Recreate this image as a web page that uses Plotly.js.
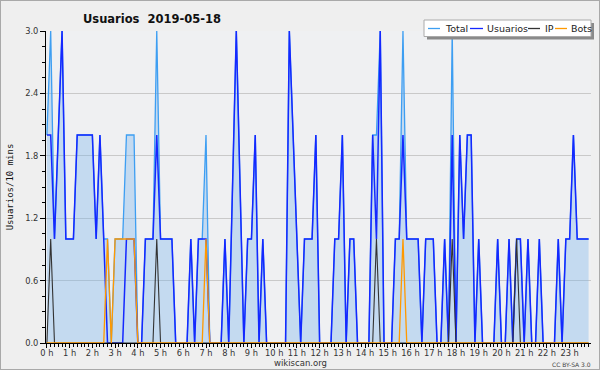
<!DOCTYPE html>
<html><head><meta charset="utf-8">
<script src="https://cdn.plot.ly/plotly-3.0.1.min.js"></script>
<style>
html,body{margin:0;padding:0;background:#efefef;}
#wrap{position:relative;width:600px;height:370px;}
#chart{width:600px;height:370px;}
#frame{position:absolute;left:0;top:0;width:600px;height:370px;box-sizing:border-box;border:1px solid #a9a9a9;pointer-events:none;}
</style></head><body>
<div id="wrap"><div id="chart"></div><div id="frame"></div></div>
<script>
// 10-minute samples for 2019-05-18 (144 per day)
const stepMinutes = 10;
const usuarios = [
 2,2,1,2,3,1,1,1,2,2,
 2,2,2,1,2,1,0,0,0,0,
 0,1,1,1,0,0,1,1,1,2,
 1,1,1,1,0,0,0,0,1,0,
 1,1,1,0,0,0,0,1,0,1.5,
 3,1.5,0,1,1,2,0,1,0,0,
 0,0,0,0,3,2,1,0,1,1,
 1,2,0,0,0,0,1,1,2,0,
 1,1,0,0,0,0,2,1,3,0,
 0,0,1,1,2,1,1,1,1,0,
 1,1,1,0,0,1,0,2,0,2,
 1,2,2,0,1,0,0,0,0,1,
 0,0,1,0,1,1,0,1,0,0,
 1,0,0,0,0,1,0,1,1,2,
 1,1,1,1];
const ip = [
 0,1,0,0,0,0,0,0,0,0,
 0,0,0,0,0,0,0,0,0,0,
 0,0,0,0,0,0,0,0,0,1,
 0,0,0,0,0,0,0,0,0,0,
 0,0,0,0,0,0,0,0,0,0,
 0,0,0,0,0,0,0,0,0,0,
 0,0,0,0,0,0,0,0,0,0,
 0,0,0,0,0,0,0,0,0,0,
 0,0,0,0,0,0,0,1,0,0,
 0,0,0,0,0,0,0,0,0,0,
 0,0,0,0,0,0,0,1,0,0,
 0,0,0,0,0,0,0,0,0,0,
 0,0,0,0,1,0,0,0,0,0,
 0,0,0,0,0,0,0,0,0,0,
 0,0,0,0];
const bots = [
 0,0,0,0,0,0,0,0,0,0,
 0,0,0,0,0,0,1,0,1,1,
 1,1,1,1,0,0,0,0,0,0,
 0,0,0,0,0,0,0,0,0,0,
 0,0,1,0,0,0,0,0,0,0,
 0,0,0,0,0,0,0,0,0,0,
 0,0,0,0,0,0,0,0,0,0,
 0,0,0,0,0,0,0,0,0,0,
 0,0,0,0,0,0,0,0,0,0,
 0,0,0,0,1,0,0,0,0,0,
 0,0,0,0,0,0,0,0,0,0,
 0,0,0,0,0,0,0,0,0,0,
 0,0,0,0,0,0,0,0,0,0,
 0,0,0,0,0,0,0,0,0,0,
 0,0,0,0];
const total = [
 2,3,1,2,3,1,1,1,2,2,
 2,2,2,1,2,1,1,0,1,1,
 1,2,2,2,0,0,1,1,1,3,
 1,1,1,1,0,0,0,0,1,0,
 1,1,2,0,0,0,0,1,0,1.5,
 3,1.5,0,1,1,2,0,1,0,0,
 0,0,0,0,3,2,1,0,1,1,
 1,2,0,0,0,0,1,1,2,0,
 1,1,0,0,0,0,2,2,3,0,
 0,0,1,1,3,1,1,1,1,0,
 1,1,1,0,0,1,0,3,0,2,
 1,2,2,0,1,0,0,0,0,1,
 0,0,1,0,1,1,0,1,0,0,
 1,0,0,0,0,1,0,1,1,2,
 1,1,1,1];
const seriesNames = ['Total','Usuarios','IP','Bots'];
const seriesColors = ['#3d9ef2','#1428ff','#333333','#ff9900'];
const titleText = 'Usuarios\u00a0\u00a02019-05-18';
const yTitle = 'Usuarios/10 mins';

const hours = usuarios.map((_, i) => i * stepMinutes / 60);

const FONT = 'DejaVu Sans, Verdana, sans-serif';
const traces = [
  {x: hours, y: total, name: seriesNames[0], mode: 'lines', fill: 'tozeroy',
   fillcolor: 'rgba(120,180,235,0.36)', line: {color: seriesColors[0], width: 1.3}},
  {x: hours, y: usuarios, name: seriesNames[1], mode: 'lines', line: {color: seriesColors[1], width: 1.5}},
  {x: hours, y: ip, name: seriesNames[2], mode: 'lines', line: {color: seriesColors[2], width: 1.1}},
  {x: hours, y: bots, name: seriesNames[3], mode: 'lines', line: {color: seriesColors[3], width: 1.3}}
];

// layout helpers: pixel -> paper coords
const L = 46, R = 591, T = 31, B = 343;
const px = v => (v - L) / (R - L);
const py = v => (B - v) / (B - T);

const legendItems = [
  {l0: 428, l1: 440, t: 444},
  {l0: 470, l1: 483, t: 486},
  {l0: 528, l1: 540, t: 544},
  {l0: 555, l1: 567, t: 570}
];
const shapes = [
  {type: 'rect', xref: 'paper', yref: 'paper', layer: 'above', x0: px(427), x1: px(594), y0: py(23), y1: py(39.5),
   fillcolor: '#8a8a8a', line: {width: 0}},
  {type: 'rect', xref: 'paper', yref: 'paper', layer: 'above', x0: px(424), x1: px(591), y0: py(20), y1: py(36.5),
   fillcolor: '#ffffff', line: {color: '#aaaaaa', width: 1}}
];
const annotations = [];
legendItems.forEach((it, k) => {
  shapes.push({type: 'line', xref: 'paper', yref: 'paper', layer: 'above', x0: px(it.l0), x1: px(it.l1),
    y0: py(28.5), y1: py(28.5), line: {color: seriesColors[k], width: 1.3}});
  annotations.push({xref: 'paper', yref: 'paper', x: px(it.t), y: py(28.5), xanchor: 'left', yanchor: 'middle',
    text: seriesNames[k], showarrow: false, borderpad: 0, font: {family: FONT, size: 9.5, color: '#222'}});
});
annotations.push({xref: 'paper', yref: 'paper', x: px(300.5), y: py(363), xanchor: 'center', yanchor: 'middle',
  text: 'wikiscan.org', showarrow: false, borderpad: 0, font: {family: FONT, size: 8.5, color: '#333'}});
annotations.push({xref: 'paper', yref: 'paper', x: px(592), y: py(364), xanchor: 'right', yanchor: 'middle',
  text: 'CC BY-SA 3.0', showarrow: false, borderpad: 0, font: {family: FONT, size: 6, color: '#444'}});

const layout = {
  width: 600, height: 370,
  margin: {l: L, r: 600 - R, t: T, b: 370 - B, pad: 0},
  paper_bgcolor: '#efefef', plot_bgcolor: '#eff0f2',
  showlegend: false,
  title: {text: '<b>' + titleText + '</b>', font: {family: FONT, size: 11.5, color: '#111'},
    xref: 'container', yref: 'container', x: 152 / 600, xanchor: 'center', y: 1 - 18.5 / 370, yanchor: 'middle'},
  xaxis: {range: [-0.04, 23.94], tickmode: 'linear', tick0: 0, dtick: 1, ticksuffix: ' h',
    ticks: 'outside', ticklen: 4, tickcolor: '#000', tickwidth: 1, ticklabelstandoff: -2,
    showline: true, linecolor: '#000', linewidth: 1, showgrid: false, zeroline: false,
    tickfont: {family: FONT, size: 8.3, color: '#333'},
    minor: {tick0: 0, dtick: 1 / 6, ticks: 'outside', ticklen: 3, tickcolor: '#000', showgrid: false}},
  yaxis: {range: [0, 3], tickmode: 'linear', tick0: 0, dtick: 0.6, tickformat: '.1f',
    ticks: 'outside', ticklen: 5, tickcolor: '#000', tickwidth: 1,
    showline: true, linecolor: '#000', linewidth: 1, showgrid: true, gridcolor: '#c9c9c9', gridwidth: 1,
    zeroline: false, tickfont: {family: FONT, size: 8.3, color: '#333'},
    minor: {tick0: 0, dtick: 0.15, ticks: 'outside', ticklen: 3, tickcolor: '#000', showgrid: false},
    title: {text: yTitle, standoff: 9, font: {family: 'DejaVu Sans Mono, monospace', size: 9, color: '#111'}}},
  shapes: shapes,
  annotations: annotations
};
Plotly.newPlot('chart', traces, layout, {displayModeBar: false, staticPlot: true});
</script>
</body></html>
